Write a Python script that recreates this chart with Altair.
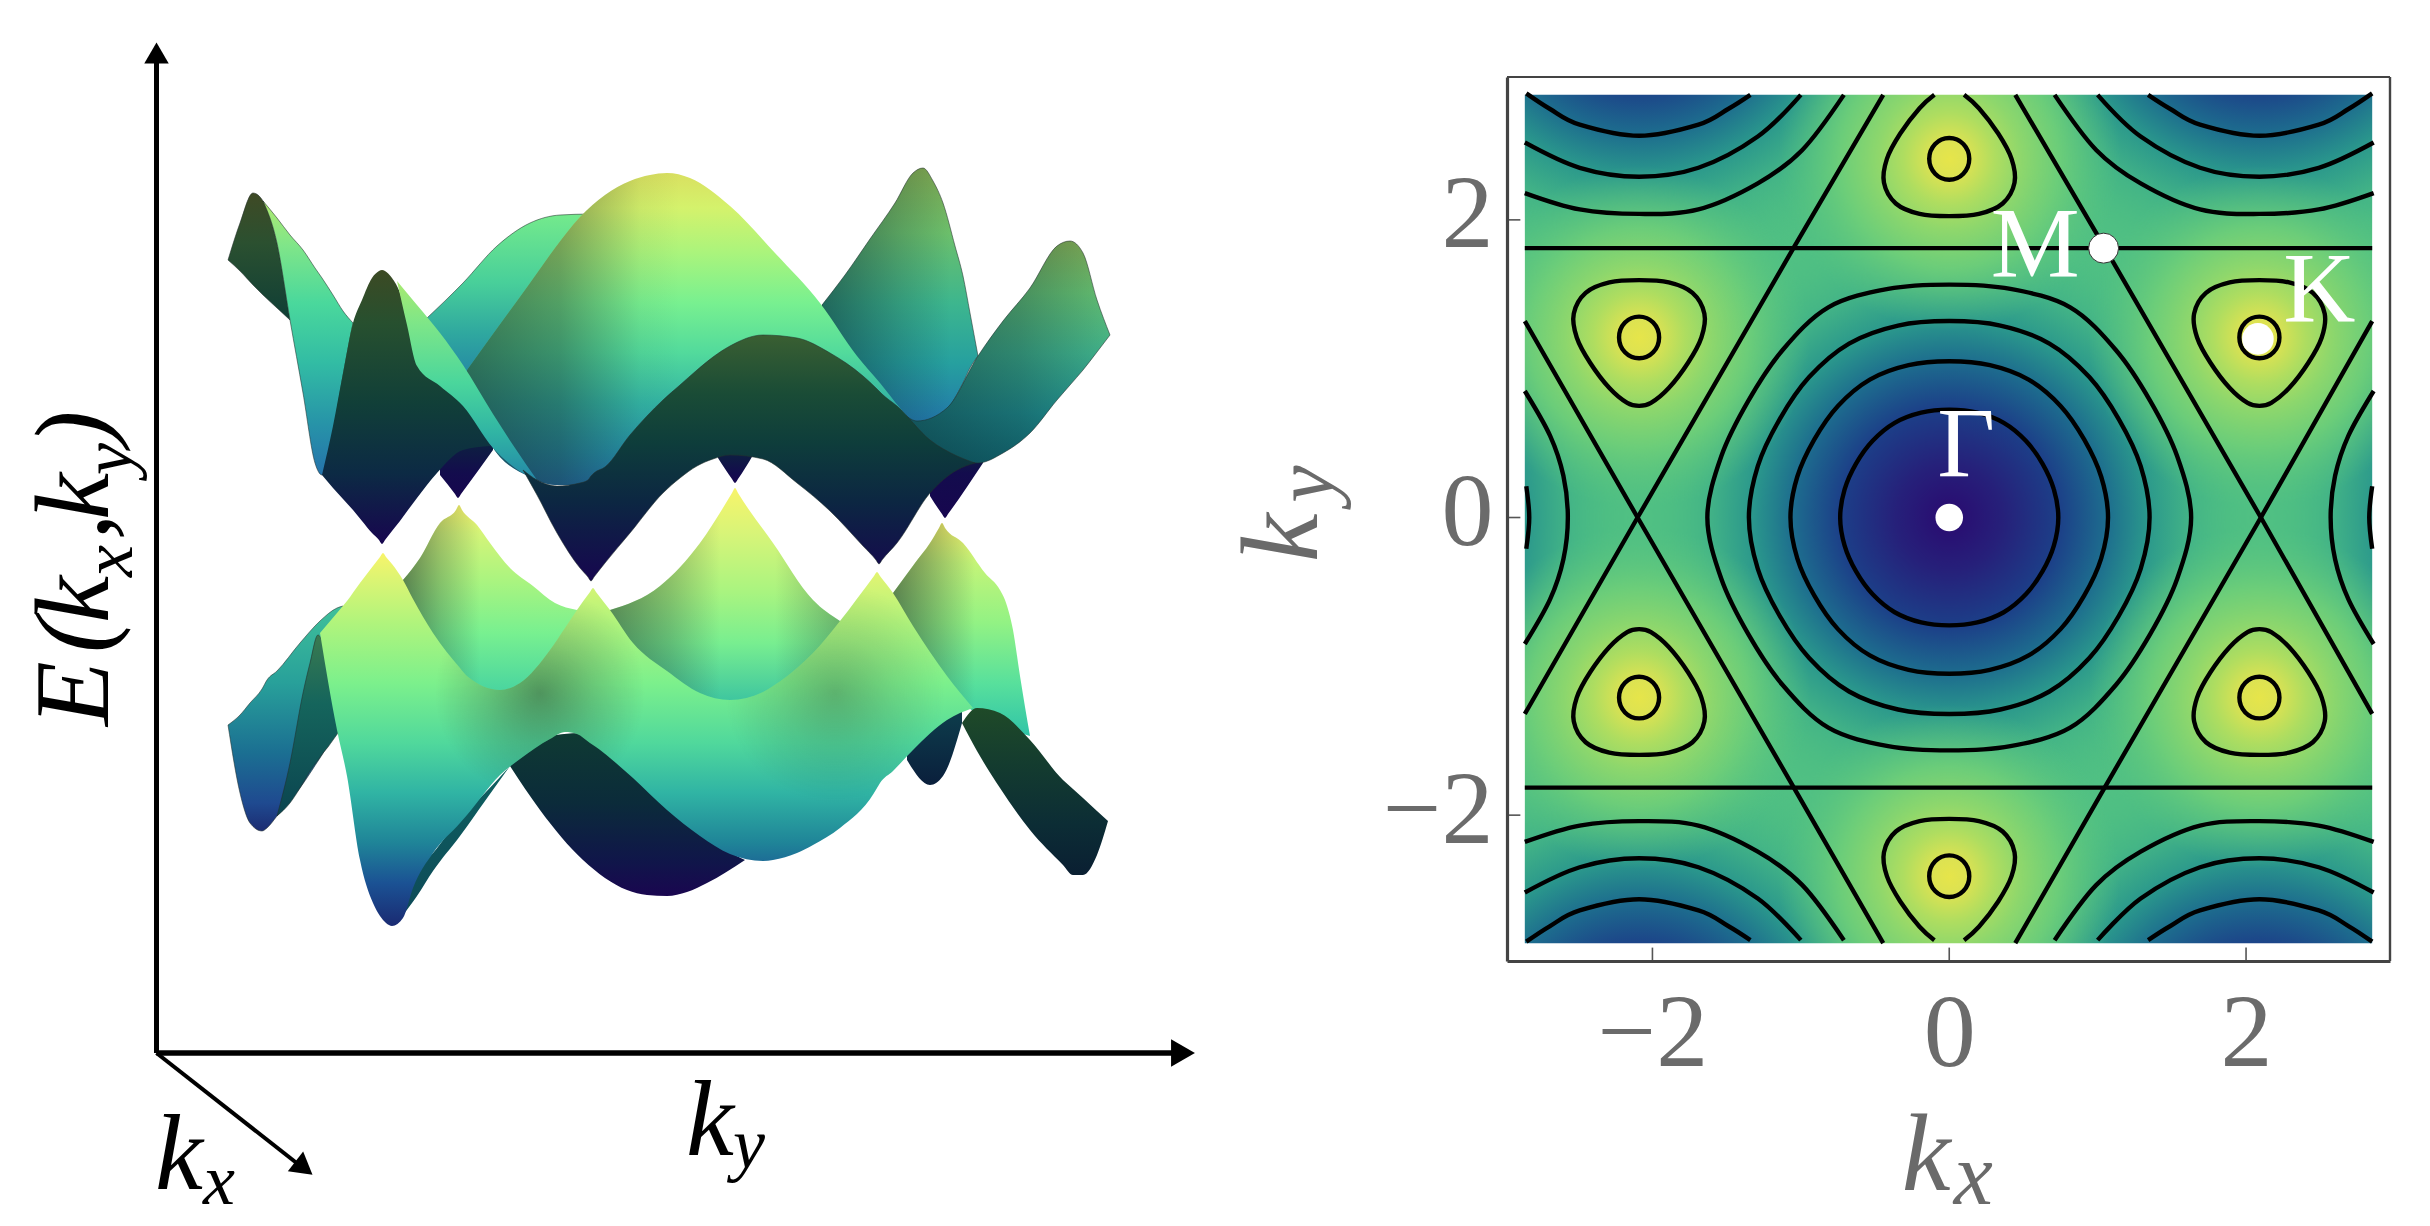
import altair as alt
import pandas as pd

SERIF = "Liberation Serif"

# ---------- left panel: band surfaces (x, upper edge, lower edge) ----------
U1 = dict(x=[228,240,253,263,277,290], top=[257,220,190,198,240,317], bot=[257,268,282,292,305,317])
U2 = dict(x=[263,277,290,303,315,322,333,343,353], top=[198,215,232,247,265,275,292,308,320], bot=[198,240,317,390,460,472,430,373,320])
TIP_L = dict(x=[440,455,458,461,493], top=[440,440,440,440,440], bot=[472,491,495,491,447])
U4 = dict(x=[427,463,497,530,560,590], top=[315,280,243,220,212,211], bot=[315,370,375,375,375,375])
U7 = dict(x=[822,845,870,895,913,923,933,943,955,963,970,978], top=[302,272,236,200,170,165,178,200,243,273,310,353], bot=[305,345,385,412,425,428,425,415,395,380,365,353])
U3 = dict(x=[322,333,343,353,362,372,379,382,385,392,400,408,417,437,463,490],
          top=[472,423,370,320,297,275,268,267,268,275,290,320,350,372,392,425],
          bot=[472,485,496,507,518,530,537,541,537,528,518,507,495,470,447,443])
HILL = dict(x=[467,490,530,555,580,605,630,650,667,690,730,775,820,857,880,900,913],
            top=[367,335,280,245,214,192,178,172,170,175,203,250,300,353,380,405,420],
            bot=[380,440,474,482,482,465,440,425,425,425,425,425,425,425,425,425,425])
U5 = dict(x=[397,407,417,440,463,493,515,537], top=[278,290,302,330,362,411,445,477], bot=[278,322,363,383,403,445,465,477])
TIP_A = dict(x=[718,732,735,738,753], top=[450,450,450,450,450], bot=[455,476,480,476,452])
TIP_B = dict(x=[930,942,945,948,983], top=[450,450,450,450,450], bot=[493,511,515,511,460])
U9 = dict(x=[905,917,947,978,1003,1030,1057,1070,1083,1097,1110], top=[412,418,405,353,318,285,243,238,250,297,332], bot=[412,432,452,460,450,430,397,382,367,349,332])
U8 = dict(x=[523,537,557,580,588,591,594,605,630,663,680,697,713,730,763,797,830,863,876,879,882,897,930,957,975],
          top=[467,477,483,480,477,473,470,464,432,397,382,367,354,343,332,335,350,373,385,388,391,403,437,453,460],
          bot=[467,492,530,565,574,578,574,560,530,490,475,463,456,452,456,480,508,543,557,561,557,540,490,467,460])

L1A = dict(x=[403,420,440,456,459,462,477,490,510,533,555,577], top=[577,555,520,507,502,507,522,540,565,583,600,607], bot=[690]*12)
L1B = dict(x=[610,660,700,732,735,738,773,813,840], top=[607,583,540,490,485,490,540,597,618], bot=[700]*9)
L1C = dict(x=[893,915,930,939,942,945,963,985,1000,1005,1013,1020,1030], top=[590,560,540,525,520,525,540,570,587,597,627,673,733], bot=[620,650,675,690,692,694,702,715,722,724,728,730,733])
L3 = dict(x=[228,240,250,262,267,277,300,320,337,343], top=[722,712,700,686,677,668,640,618,605,603], bot=[722,790,820,828,825,813,785,755,730,725])
FOLD = dict(x=[277,290,303,310,318,323,328,333,338], top=[813,760,690,660,632,640,657,690,730], bot=[813,800,780,768,757,750,744,737,730])
L5 = dict(x=[907,930,943,962], top=[740,715,705,700], bot=[757,782,773,720])
L4 = dict(x=[510,540,583,627,647,667,687,707,745], top=[763,735,730,765,783,800,818,835,857], bot=[763,807,857,887,892,893,889,880,857])
SLIVER = dict(x=[403,417,433,460,485,510], top=[910,867,850,815,790,763], bot=[912,893,868,833,798,763])
L2 = dict(x=[320,337,347,360,373,380,383,386,392,403,413,433,460,467,500,520,550,565,577,590,593,596,610,633,667,700,730,763,773,797,813,840,874,877,880,893,913,947,973],
          top=[630,610,598,580,563,554,550,554,561,577,596,630,665,673,687,680,647,625,607,589,585,589,607,640,668,690,697,689,683,665,650,618,573,569,573,590,623,673,705],
          bot=[630,727,773,857,900,913,917,920,923,915,885,850,820,812,772,756,736,729,731,740,742,744,755,775,807,833,851,858,857,850,842,825,790,785,780,768,747,717,705])
L6 = dict(x=[962,977,1000,1030,1063,1073,1083,1097,1108], top=[720,705,710,737,777,786,795,808,818], bot=[720,748,785,827,862,872,872,852,818])

# axis sketch of the left panel
AXIS_X = [156.5, 1172]
AXIS_Y = [1050, 60]
KX_ARROW_X = [156.5, 303]
KX_ARROW_Y = [1050, 1165]

# ---------- right panel: contours, in k units ----------
TICKS = [-2, 0, 2]
FRAME_X = [-2.98, 2.97]
FRAME_Y = [-2.98, 2.96]
HEAT_X = [-2.86, 2.85]
HEAT_Y = [-2.86, 2.84]
GAMMA_CENTRES_X = [0, -2.09, 2.09, -2.09, 2.09, -4.19, 4.19]
GAMMA_CENTRES_Y = [0, 3.63, 3.63, -3.63, -3.63, 0, 0]
K_CENTRES_X = [0, 0, -2.09, 2.09, -2.09, 2.09]
K_CENTRES_Y = [2.41, -2.41, 1.21, 1.21, -1.21, -1.21]

STRAIGHT = [
    [(-2.86, 1.81), (2.85, 1.81)],
    [(-2.86, -1.815), (2.85, -1.815)],
    [(-2.86, 1.32), (-2.1, 0), (-1.05, -1.81), (-0.445, -2.86)],
    [(-2.86, -1.32), (-2.1, 0), (-1.05, 1.81), (-0.445, 2.84)],
    [(2.85, 1.32), (2.1, 0), (1.05, -1.81), (0.445, -2.86)],
    [(2.85, -1.32), (2.1, 0), (1.05, 1.81), (0.445, 2.84)],
]
RING1 = [(.735,0),(.705,.189),(.628,.3625),(.516,.516),(.3675,.6365),(.189,.705),(0,.725)]
RING2 = [(1.07,0),(1.024,.274),(.909,.525),(.75,.75),(.535,.927),(.274,1.024),(0,1.05)]
RING3 = [(1.35,0),(1.29,.345),(1.143,.66),(.944,.944),(.675,1.169),(.345,1.29),(0,1.32)]
RING4 = [(1.63,0),(1.536,.412),(1.355,.7825),(1.124,1.124),(.815,1.412),(.412,1.536),(0,1.565)]
BLOB_DOWN = [(0,.385),(.2,.37),(.36,.30),(.44,.16),(.42,0),(.33,-.17),(.2,-.34),(.08,-.44),(0,-.46),(-.08,-.44),(-.2,-.34),(-.33,-.17),(-.42,0),(-.44,.16),(-.36,.30),(-.2,.37)]
BLOB_OPEN_UP = [(.1,.43),(.2,.34),(.33,.17),(.42,0),(.44,-.16),(.36,-.30),(.2,-.37),(0,-.385),(-.2,-.37),(-.36,-.30),(-.44,-.16),(-.42,0),(-.33,.17),(-.2,.34),(-.1,.43)]
SMALL_CIRCLE = [(.135,0),(.095,.1),(0,.14),(-.095,.1),(-.135,0),(-.095,-.1),(0,-.14),(.095,-.1)]
ARC2 = [(-2.85,2.85),(-2.69,2.745),(-2.49,2.64),(-2.09,2.565),(-1.69,2.64),(-1.49,2.745),(-1.34,2.84)]
ARC3 = [(-2.86,2.52),(-2.49,2.35),(-2.09,2.29),(-1.69,2.35),(-1.29,2.56),(-1.0,2.84)]
ARC4 = [(-2.86,2.18),(-2.49,2.07),(-2.09,2.04),(-1.69,2.07),(-1.29,2.245),(-.99,2.47),(-.71,2.84)]
SIDE4 = [(-2.86,.85),(-2.69,.55),(-2.6,.28),(-2.57,0),(-2.6,-.28),(-2.69,-.55),(-2.86,-.85)]
SIDE3 = [(-2.85,.21),(-2.83,0),(-2.85,-.21)]

# ---------- left panel helpers ----------
LX = alt.Scale(domain=[8, 1507], range=[0, 1499], nice=False, zero=False)
LY = alt.Scale(domain=[1218, 8], nice=False, zero=False)

def lin(stops, a, b, vertical=True):
    st = [alt.GradientStop(color=c, offset=min(1, max(0, (p - a) / (b - a)))) for p, c in stops]
    if vertical:
        return alt.Gradient(gradient="linear", x1=0, x2=0, y1=0, y2=1, stops=st)
    return alt.Gradient(gradient="linear", x1=0, x2=1, y1=0, y2=0, stops=st)

def band(shape, fill):
    return (alt.Chart(pd.DataFrame(shape))
            .mark_area(interpolate="monotone", orient="vertical", **fill)
            .encode(x=alt.X("x:Q", scale=LX, axis=None),
                    y=alt.Y("top:Q", scale=LY, axis=None),
                    y2="bot:Q"))

def surf(shape, vstops, hstops=None, edge=False, blobs=()):
    y0, y1 = min(shape["top"]), max(shape["bot"])
    x0, x1 = min(shape["x"]), max(shape["x"])
    kw = dict(fill=lin(vstops, y0, y1))
    if edge:
        kw.update(stroke="#22302c", strokeWidth=1, strokeOpacity=0.55)
    out = [band(shape, kw)]
    if hstops:
        out.append(band(shape, dict(fill=lin(hstops, x0, x1, vertical=False))))
    side = max(x1 - x0, y1 - y0)
    for bx, by, br, alpha in blobs:
        cx = .5 + (bx - (x0 + x1) / 2) / side
        cy = .5 + (by - (y0 + y1) / 2) / side
        g = alt.Gradient(gradient="radial", x1=cx, y1=cy, r1=0, x2=cx, y2=cy, r2=br / side,
                         stops=[alt.GradientStop(color=f"rgba(35,45,35,{alpha})", offset=0),
                                alt.GradientStop(color=f"rgba(35,45,35,{alpha*0.45})", offset=.5),
                                alt.GradientStop(color="rgba(35,45,35,0)", offset=1)])
        out.append(band(shape, dict(fill=g)))
    return out

def dk(a):
    return f"rgba(25,40,40,{a})"

TIP_STOPS = [(440, "#0d2040"), (470, "#130c4d"), (515, "#17064f")]
layers = []
# lower band, back to front
layers += surf(L1A, [(502,"#f8f46a"),(530,"#d4f478"),(580,"#a8f480"),(630,"#78f090"),(690,"#48d4a0")],
               [(403,dk(.55)),(440,dk(.25)),(480,dk(0)),(577,dk(0))])
layers += surf(L1B, [(485,"#f8f46a"),(530,"#d8f478"),(590,"#a8f480"),(640,"#78ee90"),(700,"#3cc4a0")],
               [(610,dk(.5)),(670,dk(.25)),(720,dk(0)),(775,dk(0)),(840,dk(.3))])
layers += surf(L1C, [(520,"#f8f46a"),(560,"#c4f478"),(620,"#92f284"),(680,"#58e09c"),(733,"#30c4a8")],
               [(893,dk(.55)),(930,dk(.3)),(975,dk(0))])
layers += surf(L3, [(603,"#3fc09a"),(680,"#28a09a"),(750,"#1b6f92"),(800,"#1f4a90"),(828,"#1c2c72")], edge=True)
layers += surf(FOLD, [(632,"#3a7a50"),(700,"#15655c"),(813,"#0b4450")], edge=True)
layers += surf(L5, [(715,"#0d3a4a"),(782,"#0a1f3c")])
layers += surf(L4, [(730,"#0f3a33"),(800,"#0b2b3a"),(860,"#10154a"),(893,"#1a0650")])
layers += surf(SLIVER, [(763,"#0f6060"),(912,"#0d4a58")])
layers += surf(L2, [(550,"#f8f46a"),(580,"#d8f474"),(620,"#b0f47c"),(680,"#7cf08c"),(740,"#50d89c"),(790,"#30b4a4"),(840,"#1f8498"),(880,"#1b5294"),(923,"#1a2a72")],
               blobs=[(540,690,105,.46),(835,690,110,.3)])
layers += surf(L6, [(705,"#1f4a28"),(760,"#143c2f"),(820,"#0c2d35"),(873,"#0a1f32")])
# upper band, back to front
layers += surf(U1, [(190,"#3f4a25"),(240,"#2b5030"),(317,"#0f3e36")], edge=True)
layers += surf(U2, [(198,"#b0ea70"),(240,"#82e688"),(300,"#4ad89c"),(360,"#32bca4"),(420,"#2794a8"),(472,"#2573ac")], edge=True)
layers += surf(TIP_L, TIP_STOPS)
layers += surf(U4, [(211,"#74ea8c"),(280,"#48cf9a"),(330,"#2fa89f"),(375,"#2487a5")], edge=True)
layers += surf(U7, [(165,"#80a850"),(230,"#6cbf6b"),(300,"#3db68e"),(360,"#26a09f"),(419,"#2277aa")],
               [(822,"rgba(10,40,50,0.55)"),(900,"rgba(10,40,50,0.2)"),(950,"rgba(10,40,50,0)")], edge=True)
layers += surf(U3, [(267,"#3c4a24"),(320,"#27502f"),(400,"#113f38"),(470,"#0c2a44"),(541,"#17064f")])
layers += surf(HILL, [(170,"#d9e060"),(205,"#d4f26c"),(250,"#aaf47c"),(300,"#78f090"),(350,"#52da9c"),(400,"#33b4a4"),(450,"#2590aa"),(483,"#2375ae")],
               [(467,"rgba(20,30,30,0.55)"),(560,"rgba(20,30,30,0.38)"),(640,"rgba(20,30,30,0.05)"),(680,"rgba(20,30,30,0)")])
layers += surf(U5, [(278,"#a8ea70"),(320,"#7ee688"),(380,"#4ad69c"),(430,"#30b4a4"),(477,"#2488a8")])
layers += surf(TIP_A, TIP_STOPS)
layers += surf(TIP_B, TIP_STOPS)
layers += surf(U9, [(238,"#80aa54"),(290,"#63bd70"),(350,"#3fb08a"),(410,"#209090"),(460,"#12707a")],
               [(905,"rgba(10,40,50,0.55)"),(1020,"rgba(10,40,50,0.3)"),(1110,"rgba(10,40,50,0)")], edge=True)
layers += surf(U8, [(332,"#3a5f32"),(390,"#1a4c36"),(440,"#0e3d3b"),(500,"#0c2642"),(578,"#16064f")], edge=True)

def lrule(x0, y0, x1, y1, w):
    return (alt.Chart(pd.DataFrame({"a": [x0], "b": [y0], "c": [x1], "d": [y1]}))
            .mark_rule(color="black", strokeWidth=w)
            .encode(x=alt.X("a:Q", scale=LX, axis=None), y=alt.Y("b:Q", scale=LY, axis=None), x2="c:Q", y2="d:Q"))

layers.append(lrule(AXIS_X[0], AXIS_Y[0], AXIS_X[0], AXIS_Y[1], 5))
layers.append(lrule(AXIS_X[0], AXIS_Y[0], AXIS_X[1], AXIS_Y[0], 5.5))
layers.append(lrule(KX_ARROW_X[0], KX_ARROW_Y[0], KX_ARROW_X[1], KX_ARROW_Y[1], 4))

def head(x, y, ang, size):
    return (alt.Chart(pd.DataFrame({"a": [x], "b": [y]}))
            .mark_point(shape="triangle-up", filled=True, color="black", opacity=1, size=size, angle=ang)
            .encode(x=alt.X("a:Q", scale=LX, axis=None), y=alt.Y("b:Q", scale=LY, axis=None)))

layers.append(head(156.5, 50, 0, 600))
layers.append(head(1183, 1050, 90, 760))
layers.append(head(304, 1165, 128, 620))

def ltext(rows, size, angle=0):
    df = pd.DataFrame(rows, columns=["t", "a", "b"])
    kw = dict(angle=angle) if angle else {}
    return (alt.Chart(df).mark_text(font=SERIF, fontStyle="italic", fontSize=size, align="left", baseline="alphabetic", color="black", **kw)
            .encode(x=alt.X("a:Q", scale=LX, axis=None), y=alt.Y("b:Q", scale=LY, axis=None), text="t:N"))

layers.append(ltext([("E", 108, 723), ("(", 108, 650), ("k", 108, 620), (",", 108, 537), ("k", 108, 517), (")", 108, 443)], 106, 270))
layers.append(ltext([("x", 132, 574), ("y", 132, 472)], 72, 270))
layers.append(ltext([("k", 155, 1186), ("k", 686, 1152)], 108))
layers.append(ltext([("x", 203, 1201), ("y", 733, 1165)], 72))

left = alt.layer(*layers).properties(width=1499, height=1210)

# ---------- right panel ----------
RX = alt.Scale(domain=FRAME_X, nice=False, zero=False)
RY = alt.Scale(domain=FRAME_Y, nice=False, zero=False)
LABEL = dict(values=TICKS, title=None, grid=False, ticks=False, tickSize=0, zindex=1,
             domainColor="#444444", domainWidth=3.2, labelFont=SERIF, labelFontSize=104, labelColor="#6b6b6b")
AX = alt.Axis(labelPadding=22, **LABEL)
AY = alt.Axis(labelPadding=14, labelOffset=-4, **LABEL)
XE = lambda f: alt.X(f"{f}:Q", scale=RX, axis=AX)
YE = lambda f: alt.Y(f"{f}:Q", scale=RY, axis=AY)

def rect(df, **mark):
    return alt.Chart(df).mark_rect(clip=True, **mark).encode(x=XE("x0"), x2="x1:Q", y=YE("y0"), y2="y1:Q")

base = rect(pd.DataFrame({"x0": [HEAT_X[0]], "x1": [HEAT_X[1]], "y0": [HEAT_Y[0]], "y1": [HEAT_Y[1]]}), fill="#50c083")

def radial(stops):
    return alt.Gradient(gradient="radial", x1=.5, y1=.5, r1=0, x2=.5, y2=.5, r2=.5,
                        stops=[alt.GradientStop(color=c, offset=o) for o, c in stops])

GR = 2.1
gamma_df = pd.DataFrame({"x0": [c - GR for c in GAMMA_CENTRES_X], "x1": [c + GR for c in GAMMA_CENTRES_X],
                         "y0": [c - GR for c in GAMMA_CENTRES_Y], "y1": [c + GR for c in GAMMA_CENTRES_Y]})
gamma = rect(gamma_df, fill=radial([(0, "#2a0a70"), (.17, "#26207a"), (.35, "#1c3f88"), (.5, "#1d6c8e"),
                                    (.63, "#2a978c"), (.78, "#44b586"), (.9, "rgba(76,189,131,0.6)"), (1, "rgba(80,192,131,0)")]))
KR = 1.15
k_df = pd.DataFrame({"x0": [c - KR for c in K_CENTRES_X], "x1": [c + KR for c in K_CENTRES_X],
                     "y0": [c - KR for c in K_CENTRES_Y], "y1": [c + KR for c in K_CENTRES_Y]})
kblob = rect(k_df, fill=radial([(0, "#e6e54a"), (.11, "#dce252"), (.27, "#aedd60"), (.42, "#8ed76c"),
                                (.64, "rgba(111,207,120,0.9)"), (1, "rgba(85,194,129,0)")]))

strips = rect(pd.DataFrame({
    "x0": [FRAME_X[0], HEAT_X[1], FRAME_X[0], FRAME_X[0]],
    "x1": [HEAT_X[0], FRAME_X[1], FRAME_X[1], FRAME_X[1]],
    "y0": [FRAME_Y[0], FRAME_Y[0], FRAME_Y[0], HEAT_Y[1]],
    "y1": [FRAME_Y[1], FRAME_Y[1], HEAT_Y[0], FRAME_Y[1]]}), fill="white")

def closed_from_quadrant(q):
    a = list(q)
    a += [(-x, y) for x, y in reversed(q[:-1])]
    a += [(-x, -y) for x, y in q[1:]]
    a += [(x, -y) for x, y in reversed(q[1:-1])]
    return a

def rows(paths):
    out = []
    for pid, path in enumerate(paths):
        for i, (x, y) in enumerate(path):
            out.append({"x": x, "y": y, "p": pid, "i": i})
    return pd.DataFrame(out)

def contour(paths, interp, w=4.4):
    return (alt.Chart(rows(paths)).mark_line(color="black", strokeWidth=w, interpolate=interp, clip=True)
            .encode(x=XE("x"), y=YE("y"), detail="p:N", order="i:Q"))

closed = [closed_from_quadrant(r) for r in (RING1, RING2, RING3, RING4)]
down = [(-2.09, 1.21), (2.09, 1.21)]
up = [(-2.09, -1.21), (2.09, -1.21)]
for cx, cy in down:
    closed.append([(cx + x, cy + y) for x, y in BLOB_DOWN])
for cx, cy in up:
    closed.append([(cx + x, cy - y) for x, y in BLOB_DOWN])
for cx, cy in zip(K_CENTRES_X, K_CENTRES_Y):
    closed.append([(cx + x, cy + y) for x, y in SMALL_CIRCLE])

opened = [[(x, 2.41 + y) for x, y in BLOB_OPEN_UP], [(x, -2.41 - y) for x, y in BLOB_OPEN_UP]]
for arc in (ARC2, ARC3, ARC4):
    for sx, sy in ((1, 1), (-1, 1), (1, -1), (-1, -1)):
        opened.append([(sx * x, sy * y) for x, y in arc])
for arc in (SIDE4, SIDE3):
    for sx in (1, -1):
        opened.append([(sx * x, y) for x, y in arc])

def dot(x, y, size, **kw):
    return alt.Chart(pd.DataFrame({"x": [x], "y": [y]})).mark_circle(size=size, color="white", opacity=1, **kw).encode(x=XE("x"), y=YE("y"))

def rtext(rows_, size, color, italic=False, angle=0):
    kw = {}
    if italic:
        kw["fontStyle"] = "italic"
    if angle:
        kw["angle"] = angle
    return (alt.Chart(pd.DataFrame(rows_, columns=["t", "x", "y"]))
            .mark_text(font=SERIF, fontSize=size, color=color, align="left", baseline="alphabetic", **kw)
            .encode(x=XE("x"), y=YE("y"), text="t:N"))

tick_x = alt.Chart(pd.DataFrame({"x": TICKS, "y0": [FRAME_Y[0]] * 3, "y1": [FRAME_Y[0] + .09] * 3})).mark_rule(color="#555555", strokeWidth=1.6).encode(x=XE("x"), y=YE("y0"), y2="y1:Q")
tick_y = alt.Chart(pd.DataFrame({"y": TICKS, "x0": [FRAME_X[0]] * 3, "x1": [FRAME_X[0] + .09] * 3})).mark_rule(color="#555555", strokeWidth=1.6).encode(y=YE("y"), x=XE("x0"), x2="x1:Q")
frame_top = alt.Chart(pd.DataFrame({"x0": [FRAME_X[0]], "x1": [FRAME_X[1]], "y": [FRAME_Y[1]]})).mark_rule(color="#444444", strokeWidth=2).encode(x=XE("x0"), x2="x1:Q", y=YE("y"))
frame_right = alt.Chart(pd.DataFrame({"y0": [FRAME_Y[0]], "y1": [FRAME_Y[1]], "x": [FRAME_X[1]]})).mark_rule(color="#444444", strokeWidth=2.4).encode(y=YE("y0"), y2="y1:Q", x=XE("x"))

right = alt.layer(
    base, gamma, kblob, strips,
    contour(STRAIGHT, "linear"), contour(closed, "cardinal-closed"), contour(opened, "cardinal"),
    tick_x, tick_y, frame_top, frame_right,
    dot(0, 0, 760),
    dot(1.04, 1.81, 900, stroke="#333333", strokeWidth=1),
    dot(2.08, 1.20, 1000),
    rtext([("Γ", -0.08, 0.28), ("M", 0.28, 1.625), ("K", 2.25, 1.32)], 100, "white"),
    rtext([("k", -0.32, -4.52)], 110, "#6a6a6a", italic=True),
    rtext([("x", 0.03, -4.61)], 88, "#6a6a6a", italic=True),
    rtext([("k", -4.26, -0.30)], 110, "#6a6a6a", italic=True, angle=270),
    rtext([("y", -4.15, 0.10)], 84, "#6a6a6a", italic=True, angle=270),
).properties(width=883, height=884)

spacer = (alt.Chart(pd.DataFrame({"a": [0]})).mark_point(opacity=0)
          .encode(x=alt.value(0), y=alt.value(0)).properties(width=883, height=66))
right_col = alt.vconcat(spacer, right, spacing=0, bounds="flush")

chart = (alt.hconcat(left, right_col, spacing=0, bounds="flush")
         .properties(padding=0, background="white")
         .configure_view(strokeWidth=0))

chart.save("out.html", embed_options={"renderer": "svg", "actions": False})
